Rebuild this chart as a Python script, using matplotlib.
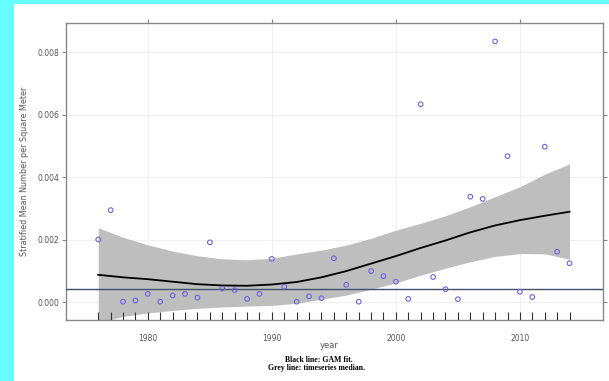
import numpy as np
import matplotlib.pyplot as plt

# observed stratified means per year
years = np.arange(1976, 2015)
values = [0.00201, 0.00295, 0.00002, 0.00006, 0.00027, 0.00002, 0.00022, 0.00027,
          0.00015, 0.00192, 0.00044, 0.00039, 0.00011, 0.00027, 0.00139, 0.00050,
          0.00002, 0.00019, 0.00013, 0.00141, 0.00056, 0.00002, 0.00100, 0.00084,
          0.00066, 0.00011, 0.00634, 0.00081, 0.00042, 0.00010, 0.00338, 0.00331,
          0.00835, 0.00468, 0.00034, 0.00017, 0.00498, 0.00162, 0.00125]

# GAM fit and confidence band, read every two years
fit_years = np.arange(1976, 2015, 2)
fit = [0.00088, 0.00080, 0.00074, 0.00066, 0.00058, 0.00054, 0.00053, 0.00057, 0.00065, 0.00080,
       0.00100, 0.00124, 0.00148, 0.00174, 0.00198, 0.00224, 0.00246, 0.00263, 0.00277, 0.00290]
upper = [0.00239, 0.00208, 0.00184, 0.00164, 0.00149, 0.00139, 0.00136, 0.00141, 0.00155, 0.00167,
         0.00183, 0.00205, 0.00231, 0.00253, 0.00277, 0.00306, 0.00338, 0.00370, 0.00410, 0.00443]
lower = [-0.00065, -0.00045, -0.00034, -0.00026, -0.00019, -0.00015, -0.00012, -0.00010, -0.00003, 0.00010,
         0.00023, 0.00042, 0.00062, 0.00087, 0.00109, 0.00130, 0.00147, 0.00156, 0.00155, 0.00138]

median = np.median(values)

fig = plt.figure(figsize=(6.09, 3.81), dpi=100)
fig.patch.set_facecolor('#66ffff')
# white panel
fig.add_artist(plt.Rectangle((14 / 609, 0), 1, 1 - 4 / 381, transform=fig.transFigure,
                             facecolor='white', edgecolor='none', zorder=0))

ax = fig.add_axes([66 / 609, 61 / 381, 537 / 609, 297 / 381])
ax.set_facecolor('white')

ax.grid(color='#f0f0f0', linewidth=0.8)
ax.set_axisbelow(True)

ax.fill_between(fit_years, lower, upper, color='#bebebe', linewidth=0, zorder=2)
ax.plot(fit_years, fit, color='black', linewidth=1.3, zorder=3)
ax.axhline(median, color='#415068', linewidth=1.0, zorder=4)
ax.scatter(years, values, s=11, facecolors='none', edgecolors='#6f63e0', linewidths=0.8, zorder=5)

# rug
ax.vlines(years, 0, 0.028, transform=ax.get_xaxis_transform(), color='#333333', linewidth=0.8, zorder=6)

ax.set_xlim(1973.4, 2016.7)
ax.set_ylim(-0.000566, 0.00894)
ax.set_xticks([1980, 1990, 2000, 2010])
ax.set_yticks([0.000, 0.002, 0.004, 0.006, 0.008])
ax.set_yticklabels(['%.3f' % v for v in [0.000, 0.002, 0.004, 0.006, 0.008]])

for s in ax.spines.values():
    s.set_color('#888888')
    s.set_linewidth(1.0)

ax.tick_params(axis='y', left=True, right=True, direction='out', length=3, color='#888888',
               labelsize=5.5, labelcolor='#555555', pad=2)
ax.tick_params(axis='x', top=True, bottom=False, direction='out', length=3, color='#888888',
               labelsize=5.5, labelcolor='#555555', pad=7)

ax.set_ylabel('Stratified Mean Number per Square Meter', fontsize=5.8, color='#555555', labelpad=6)
ax.set_xlabel('year', fontsize=6, color='#555555')
ax.xaxis.set_label_coords(0.49, -0.072)

fig.text(0.523, 1 - 360 / 381, 'Black line: GAM fit.', ha='center', va='center',
         fontsize=5.6, fontweight='bold', family='Liberation Serif')
fig.text(0.52, 1 - 368 / 381, 'Grey line: timeseries median.', ha='center', va='center',
         fontsize=5.6, fontweight='bold', family='Liberation Serif')

plt.savefig('out.png', dpi=100, facecolor=fig.get_facecolor())
plt.close()
